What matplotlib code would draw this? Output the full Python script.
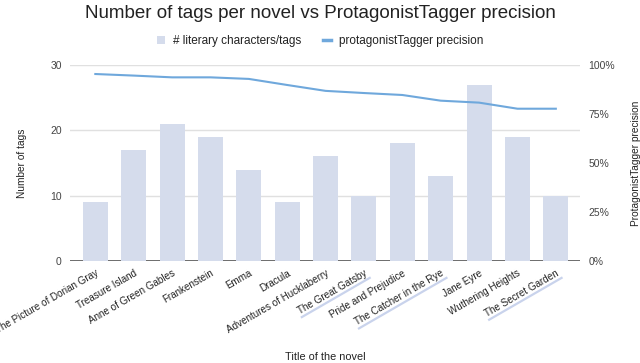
import math
import matplotlib.pyplot as plt
from matplotlib.lines import Line2D
from matplotlib.ticker import PercentFormatter

plt.rcParams['font.family'] = ['Liberation Sans', 'DejaVu Sans']

novels = ['The Picture of Dorian Gray', 'Treasure Island', 'Anne of Green Gables',
          'Frankenstein', 'Emma', 'Dracula', 'Adventures of Hucklaberry',
          'The Great Gatsby', 'Pride and Prejudice', 'The Catcher in the Rye',
          'Jane Eyre', 'Wuthering Heights', 'The Secret Garden']
tags = [9, 17, 21, 19, 14, 9, 16, 10, 18, 13, 27, 19, 10]
precision = [0.954, 0.946, 0.937, 0.937, 0.929, 0.898, 0.868, 0.857, 0.847,
             0.818, 0.808, 0.777, 0.777]
underlined = ['The Great Gatsby', 'The Catcher in the Rye', 'The Secret Garden']

bar_color = '#d5dcec'
line_color = '#6fa8dc'
text_color = '#222222'
tick_color = '#444444'
rot = 30

fig = plt.figure(figsize=(6.4, 3.63), dpi=100)
ax = fig.add_axes([70 / 640, 1 - 261 / 363, 510 / 640, 196 / 363])
x = list(range(len(novels)))

ax.bar(x, tags, width=0.65, color=bar_color, zorder=2, label='# literary characters/tags')
ax.set_ylim(0, 30)
ax.set_xlim(-0.66, 12.63)
ax.set_yticks([0, 10, 20, 30])
ax.grid(axis='y', color='#e0e0e0', linewidth=1, zorder=0)
ax.axhline(0, color='#333333', linewidth=1.2, zorder=1)
for s in ax.spines.values():
    s.set_visible(False)
ax.tick_params(axis='y', length=0, labelsize=7.5, colors=tick_color, pad=6)
ax.tick_params(axis='x', length=0, labelsize=7.1, colors=text_color, pad=5)
ax.set_xticks(x)
ax.set_xticklabels(novels, rotation=rot, ha='right', rotation_mode='anchor')
ax.set_ylabel('Number of tags', fontsize=7.3, color=text_color)
ax.yaxis.set_label_coords(-0.084, 0.5)
ax.set_xlabel('Title of the novel', fontsize=7.8, color=text_color)
ax.xaxis.set_label_coords(0.5, -0.462)

ax2 = ax.twinx()
ax2.plot(x, precision, color=line_color, linewidth=1.5, zorder=3,
         label='protagonistTagger precision')
ax2.set_ylim(0, 1)
ax2.set_yticks([0, 0.25, 0.5, 0.75, 1.0])
ax2.yaxis.set_major_formatter(PercentFormatter(1.0, decimals=0))
for s in ax2.spines.values():
    s.set_visible(False)
ax2.tick_params(length=0, labelsize=7.5, colors=tick_color, pad=6)
ax2.set_ylabel('ProtagonistTagger precision', fontsize=7.3, color=text_color)
ax2.yaxis.set_label_coords(1.1, 0.5)

h1, l1 = ax.get_legend_handles_labels()
h2, l2 = ax2.get_legend_handles_labels()
leg = fig.legend(h1 + h2, l1 + l2, loc='center', bbox_to_anchor=(0.5, 1 - 41 / 363),
                 ncol=2, frameon=False, fontsize=8.5, handlelength=0.7,
                 handletextpad=0.7, columnspacing=1.8)
leg.get_lines()[0].set_linewidth(2.5)
for t in leg.get_texts():
    t.set_color(text_color)

fig.suptitle('Number of tags per novel vs ProtagonistTagger precision',
             y=1 - 13 / 363, va='center', fontsize=13.5, color=text_color)

# light blue marks under some of the labels, as in the source screenshot
fig.canvas.draw()
renderer = fig.canvas.get_renderer()
c, s_ = math.cos(math.radians(rot)), math.sin(math.radians(rot))
for lab in ax.get_xticklabels():
    if lab.get_text() not in underlined:
        continue
    ax_x, ax_y = lab.get_transform().transform(lab.get_position())
    tmp = fig.text(0, 0, lab.get_text(), fontsize=lab.get_fontsize())
    bb = tmp.get_window_extent(renderer)
    tmp.remove()
    w, h = bb.width, bb.height
    x0, y0 = ax_x + s_ * (h + 1.5), ax_y - c * (h + 1.5)
    x1, y1 = x0 - c * w, y0 - s_ * w
    fig.add_artist(Line2D([x0, x1], [y0, y1], transform=None,
                          color='#c9d3ec', linewidth=1.6))

fig.savefig('out.png', dpi=100)
